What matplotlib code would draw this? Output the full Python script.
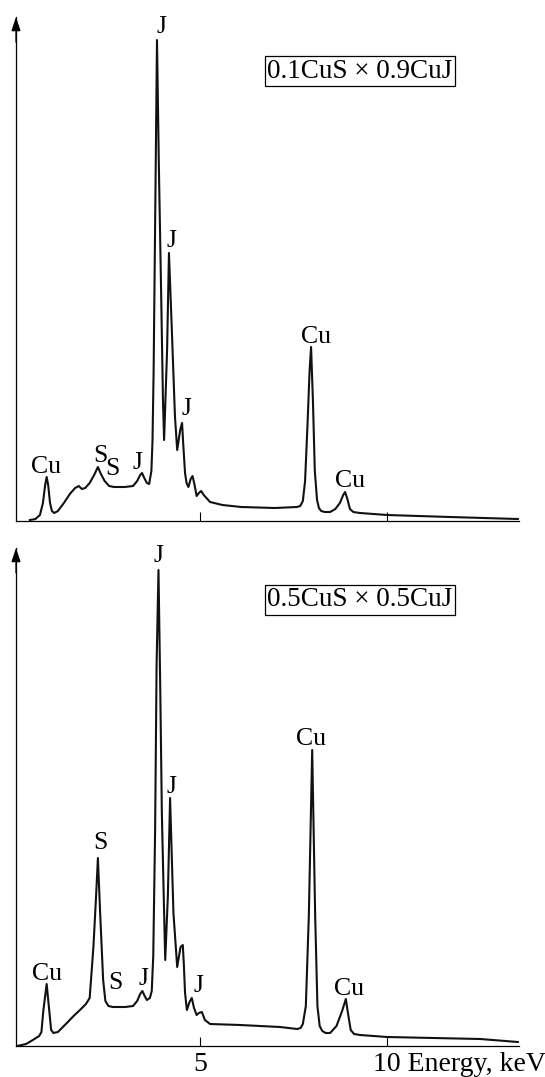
import matplotlib
matplotlib.use("Agg")
import matplotlib.pyplot as plt
import matplotlib.transforms as mtransforms

plt.rcParams['font.family'] = ['Liberation Serif', 'DejaVu Serif']

# EDX spectra, energy (keV) vs counts (arb. units)
energy_top = [0.45, 0.60, 0.72, 0.80, 0.86, 0.90, 0.94, 0.99, 1.04, 1.10,
              1.20, 1.36, 1.52, 1.66, 1.76, 1.84, 1.93, 2.05, 2.17, 2.27,
              2.35, 2.45, 2.57, 2.70, 2.99, 3.21, 3.32, 3.40, 3.45, 3.51,
              3.58, 3.64, 3.70, 3.73, 3.76, 3.79, 3.82, 3.85, 3.90, 3.96,
              4.01, 4.04, 4.12, 4.17, 4.25, 4.33, 4.39, 4.47, 4.52, 4.55,
              4.60, 4.64, 4.69, 4.75, 4.80, 4.85, 4.91, 4.97, 5.03, 5.10,
              5.27, 5.60, 6.10, 7.00, 7.59, 7.68, 7.75, 7.81, 7.88, 7.93,
              7.97, 8.02, 8.07, 8.13, 8.18, 8.24, 8.34, 8.48, 8.62, 8.74,
              8.83, 8.88, 8.94, 9.01, 9.10, 9.28, 10.0, 11.68, 13.50]
counts_top = [1, 2, 6, 18, 36, 44, 36, 18, 10, 8,
              10, 18, 27, 33, 35, 32, 33, 38, 46, 54,
              47, 40, 35, 34, 34, 35, 40, 46, 48, 43,
              38, 37, 50, 80, 150, 260, 370, 481, 355, 230,
              120, 81, 171, 268, 188, 105, 71, 91, 98, 78,
              48, 38, 34, 42, 45, 37, 25, 28, 30, 26,
              19, 16, 14, 13, 14, 15, 20, 40, 101, 150,
              174, 120, 50, 21, 13, 10, 9, 9, 12, 18,
              26, 29, 22, 12, 9, 8, 6, 4, 2]

energy_bot = [0.11, 0.35, 0.53, 0.70, 0.76, 0.81, 0.90, 0.97, 1.02, 1.08,
              1.20, 1.44, 1.62, 1.79, 1.95, 2.05, 2.15, 2.22, 2.27, 2.33,
              2.41, 2.47, 2.55, 2.67, 3.00, 3.21, 3.32, 3.40, 3.46, 3.52,
              3.58, 3.66, 3.71, 3.75, 3.80, 3.84, 3.89, 3.94, 3.98, 4.03,
              4.07, 4.14, 4.20, 4.29, 4.39, 4.48, 4.54, 4.57, 4.60, 4.65,
              4.72, 4.78, 4.84, 4.91, 4.97, 5.05, 5.13, 5.27, 6.07, 7.14,
              7.60, 7.69, 7.75, 7.83, 7.91, 8.00, 8.08, 8.14, 8.20, 8.27,
              8.36, 8.48, 8.65, 8.80, 8.90, 8.96, 9.03, 9.12, 9.28, 10.0,
              12.49, 13.50]
counts_bot = [0, 2, 6, 10, 14, 35, 62, 35, 16, 13,
              14, 23, 30, 36, 42, 48, 99, 149, 188, 133,
              66, 45, 40, 39, 39, 40, 45, 52, 55, 50,
              46, 48, 55, 90, 216, 383, 476, 350, 233, 150,
              86, 149, 248, 133, 79, 99, 101, 80, 53, 36,
              44, 48, 38, 31, 33, 34, 26, 22, 21, 19,
              17, 18, 22, 40, 130, 296, 130, 40, 20, 15,
              13, 13, 20, 35, 47, 32, 16, 12, 11, 9,
              7, 4]

# peak labels: (text, energy, counts)
labels_top = [("Cu", 0.88, 48), ("S", 2.33, 59), ("S", 2.67, 46), ("J", 3.34, 52),
              ("J", 3.96, 488), ("J", 4.25, 274), ("J", 4.63, 106),
              ("Cu", 8.10, 178), ("Cu", 9.01, 34)]
labels_bot = [("Cu", 0.91, 66), ("S", 2.33, 197), ("S", 2.75, 57), ("J", 3.50, 61),
              ("J", 3.90, 484), ("J", 4.25, 253), ("J", 4.95, 54),
              ("Cu", 7.97, 301), ("Cu", 8.98, 51)]

titles = ["0.1CuS \u00d7 0.9CuJ", "0.5CuS \u00d7 0.5CuJ"]
title_pos = [(9.28, 450), (9.28, 446)]
ylims = [504, 498]

fs = 18.5
fs_axis = 20
fig = plt.figure(figsize=(5.45, 10.77), dpi=100)
ax1 = fig.add_axes([16 / 545, 556 / 1077, 503 / 545, 504 / 1077])
ax2 = fig.add_axes([16 / 545, 31 / 1077, 503 / 545, 498 / 1077])

panels = [(ax1, energy_top, counts_top, labels_top),
          (ax2, energy_bot, counts_bot, labels_bot)]

for i, (ax, e, c, labs) in enumerate(panels):
    ax.plot(e, c, color='#111111', lw=1.5, solid_joinstyle='round')
    ax.set_xlim(0.08, 13.53)
    ax.set_ylim(0, ylims[i])
    ax.spines['top'].set_visible(False)
    ax.spines['right'].set_visible(False)
    ax.spines['left'].set_linewidth(0.9)
    ax.spines['bottom'].set_linewidth(0.9)
    ax.set_yticks([])
    ax.set_xticks([5, 10])
    ax.tick_params(axis='x', direction='in', length=6.5, width=0.8, pad=4.5,
                   labelsize=fs_axis)
    ax.annotate('', xy=(0, 1.0), xytext=(0, 0.95), xycoords='axes fraction',
                arrowprops=dict(arrowstyle='-|>,head_length=0.6,head_width=0.2',
                                mutation_scale=14, color='k', lw=0.9,
                                shrinkA=0, shrinkB=0))
    for txt, x, y in labs:
        ax.text(x, y, txt, fontsize=fs, ha='center', va='baseline')
    tx, ty = title_pos[i]
    ax.text(tx, ty, titles[i], fontsize=19.5, ha='center', va='center',
            bbox=dict(boxstyle='square,pad=0.08', fc='white', ec='black', lw=0.9))

ax1.set_xticklabels(['', ''])
ax2.set_xticklabels(['5', ''])
trans = mtransforms.offset_copy(ax2.get_xaxis_transform(), fig=fig,
                                x=-fs_axis * 0.5, y=-4.5, units='points')
ax2.text(10, 0, "10 Energy, keV", transform=trans, fontsize=fs_axis,
         ha='left', va='top')

fig.savefig("out.png", dpi=100)
